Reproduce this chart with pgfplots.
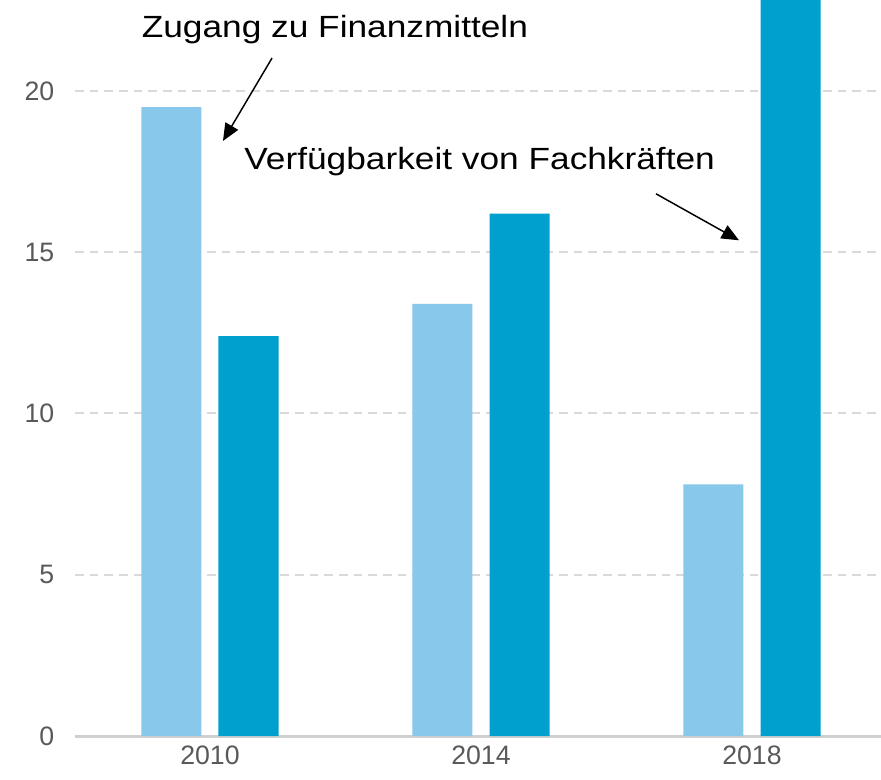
\documentclass[border=0pt]{standalone}
\usepackage{pgfplots}
\pgfplotsset{compat=1.18}
\usepackage{fontspec}
\setmainfont{Liberation Sans}
\usetikzlibrary{arrows.meta}
\definecolor{lightbar}{RGB}{136,200,235}
\definecolor{darkbar}{RGB}{0,160,206}
\definecolor{gridc}{RGB}{217,217,217}
\definecolor{axisc}{RGB}{208,208,208}
\definecolor{tickc}{RGB}{89,89,89}
\begin{document}
\begin{tikzpicture}
\begin{axis}[
  scale only axis,
  width=604.5pt, height=552pt,
  xmin=-0.498, xmax=2.476,
  ymin=0, ymax=22.82,
  ybar, bar width=45pt,
  axis x line*=bottom,
  axis y line*=left,
  x axis line style={draw=axisc, line width=2.25pt, -},
  y axis line style={draw=none},
  xtick={0,1,2},
  xticklabels={2010,2014,2018},
  ytick={0,5,10,15,20},
  major tick length=0pt,
  ymajorgrids,
  grid style={draw=gridc, line width=1.5pt, dash pattern=on 6.5pt off 4.5pt},
  ticklabel style={font=\fontsize{20}{24}\selectfont, text=tickc},
  /pgf/number format/assume math mode=true,
  xticklabel style={yshift=-4pt},
  yticklabel style={xshift=-12pt},
  clip mode=individual,
  axis on top=false,
]
\addplot[fill=lightbar, draw=none, bar shift=-29pt] coordinates {(0,19.5) (1,13.4) (2,7.8)};
\addplot[fill=darkbar, draw=none, bar shift=28.9pt] coordinates {(0,12.4) (1,16.2) (2,25)};
\coordinate (bl) at (rel axis cs:0,0);
\coordinate (tr) at (rel axis cs:1,1);
\node[anchor=base, font=\fontsize{23}{27}\selectfont, inner sep=0pt, xscale=1.15] at (axis cs:0.461,21.67) {Zugang zu Finanzmitteln};
\node[anchor=base, font=\fontsize{23}{27}\selectfont, inner sep=0pt, xscale=1.15] at (axis cs:0.995,17.57) {Verfügbarkeit von Fachkräften};
\draw[line width=1.1pt, -{Triangle[length=13pt,width=11pt]}] (axis cs:0.229,21.02) -- (axis cs:0.048,18.45);
\draw[line width=1.1pt, -{Triangle[length=13pt,width=11pt]}] (axis cs:1.646,16.81) -- (axis cs:1.952,15.37);
\end{axis}
\pgfresetboundingbox
\path[use as bounding box] ([xshift=-56.25pt,yshift=-32.25pt]bl) rectangle (tr);
\end{tikzpicture}
\end{document}
